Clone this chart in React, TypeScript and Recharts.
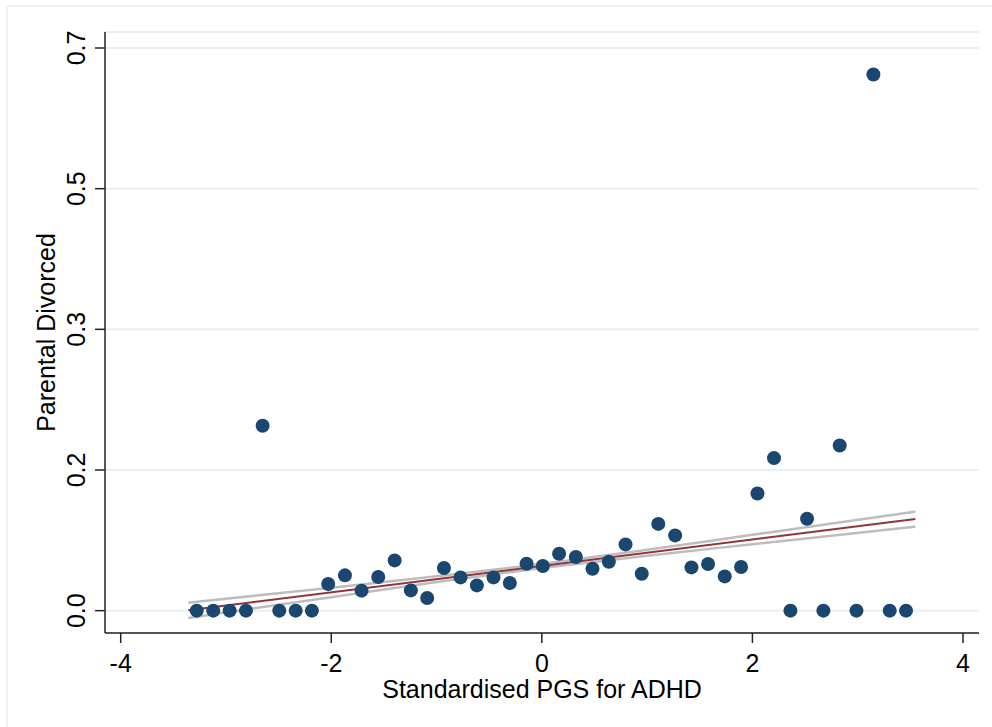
import { ComposedChart, Scatter, Line, XAxis, YAxis, CartesianGrid } from 'recharts';

// binned scatter: standardised PGS (x) vs share with divorced parents (y)
const pgs = [
  -3.278, -3.121, -2.965, -2.81, -2.652, -2.494, -2.338, -2.184, -2.029, -1.87, -1.712,
  -1.554, -1.398, -1.244, -1.089, -0.93, -0.772, -0.617, -0.459, -0.304, -0.145, 0.009,
  0.164, 0.323, 0.481, 0.636, 0.795, 0.949, 1.106, 1.266, 1.421, 1.579, 1.737, 1.892,
  2.048, 2.205, 2.361, 2.519, 2.674, 2.829, 2.988, 3.149, 3.304, 3.459,
];
const divorced = [
  0, 0, 0, 0, 0.23, 0, 0, 0, 0.0332, 0.0439, 0.0249,
  0.0419, 0.0625, 0.0252, 0.0158, 0.0531, 0.0414, 0.0314, 0.0414, 0.0344, 0.0584, 0.0555,
  0.0708, 0.0667, 0.0522, 0.0609, 0.0824, 0.046, 0.1079, 0.0936, 0.0538, 0.058, 0.0426, 0.0543,
  0.1458, 0.1898, 0, 0.1143, 0, 0.2054, 0, 0.667, 0, 0,
];

// linear fit and its confidence band
const fitX = [-3.358, 3.548];
const fitY = [0.0004, 0.114];
const ciX = [-3.358, -2, -1, 0, 1, 2, 3.548];
const ciUpper = [0.0098, 0.0286, 0.0428, 0.0581, 0.0757, 0.0944, 0.1232];
const ciLower = [-0.009, 0.0168, 0.0356, 0.0531, 0.0684, 0.0826, 0.1045];

const xTicks = [-4, -2, 0, 2, 4];
const yTicks = [0, 0.175, 0.35, 0.525, 0.7];
const yTickLabels = ['0.0', '0.2', '0.3', '0.5', '0.7'];

const FONT = '"Liberation Sans", Arial, sans-serif';
const FS = 25;
const NAVY = '#1a476f';

const points = pgs.map((x, i) => ({ x, y: divorced[i] }));
const fitData = fitX.map((x, i) => ({ x, fit: fitY[i] }));
const upperData = ciX.map((x, i) => ({ x, hi: ciUpper[i] }));
const lowerData = ciX.map((x, i) => ({ x, lo: ciLower[i] }));

const YTick = (props: any) => {
  const { x, y, index } = props;
  return (
    <text
      transform={`translate(${x},${y}) rotate(-90)`}
      textAnchor="middle"
      dy="0.35em"
      fontSize={FS}
      fontFamily={FONT}
      fill="#000"
    >
      {yTickLabels[index]}
    </text>
  );
};

const Dot = (props: any) => <circle cx={props.cx} cy={props.cy} r={7} fill={NAVY} />;

export default function App() {
  return (
    <div style={{ position: 'fixed', left: 0, top: 0, width: 992, height: 727, overflow: 'hidden', background: '#fff' }}>
      <div style={{ position: 'absolute', left: 6, top: 5, width: 1100, height: 900, border: '2px solid #edf2f4' }} />
      <div style={{ position: 'absolute', left: 0, top: 0 }}>
        <ComposedChart width={992} height={727} margin={{ top: 32, right: 13, left: 0, bottom: 0 }}>
          <CartesianGrid vertical={false} stroke="#e8eff2" strokeWidth={2} />
          <XAxis
            type="number"
            dataKey="x"
            domain={[-4.149, 4.152]}
            ticks={xTicks}
            allowDataOverflow
            height={94}
            stroke="#222"
            strokeWidth={1.5}
            tickSize={10}
            tickMargin={11}
            tick={{ fill: '#000', fontSize: FS, fontFamily: FONT }}
            label={{
              value: 'Standardised PGS for ADHD',
              position: 'insideBottom',
              offset: 29,
              fill: '#000',
              fontSize: FS,
              fontFamily: FONT,
            }}
          />
          <YAxis
            type="number"
            domain={[-0.0278, 0.7199]}
            ticks={yTicks}
            allowDataOverflow
            width={105}
            stroke="#222"
            strokeWidth={1.5}
            tickSize={10}
            tickMargin={18.5}
            tick={<YTick />}
            label={{
              value: 'Parental Divorced',
              angle: -90,
              position: 'insideLeft',
              offset: 46,
              fill: '#000',
              fontSize: FS,
              fontFamily: FONT,
              style: { textAnchor: 'middle' },
            }}
          />
          <Scatter data={points} dataKey="y" shape={<Dot />} isAnimationActive={false} />
          <Line data={upperData} dataKey="hi" type="monotone" stroke="#bdbdbd" strokeWidth={2.5} dot={false} isAnimationActive={false} />
          <Line data={lowerData} dataKey="lo" type="monotone" stroke="#bdbdbd" strokeWidth={2.5} dot={false} isAnimationActive={false} />
          <Line data={fitData} dataKey="fit" type="linear" stroke="#90353b" strokeWidth={2} dot={false} isAnimationActive={false} />
        </ComposedChart>
      </div>
    </div>
  );
}
